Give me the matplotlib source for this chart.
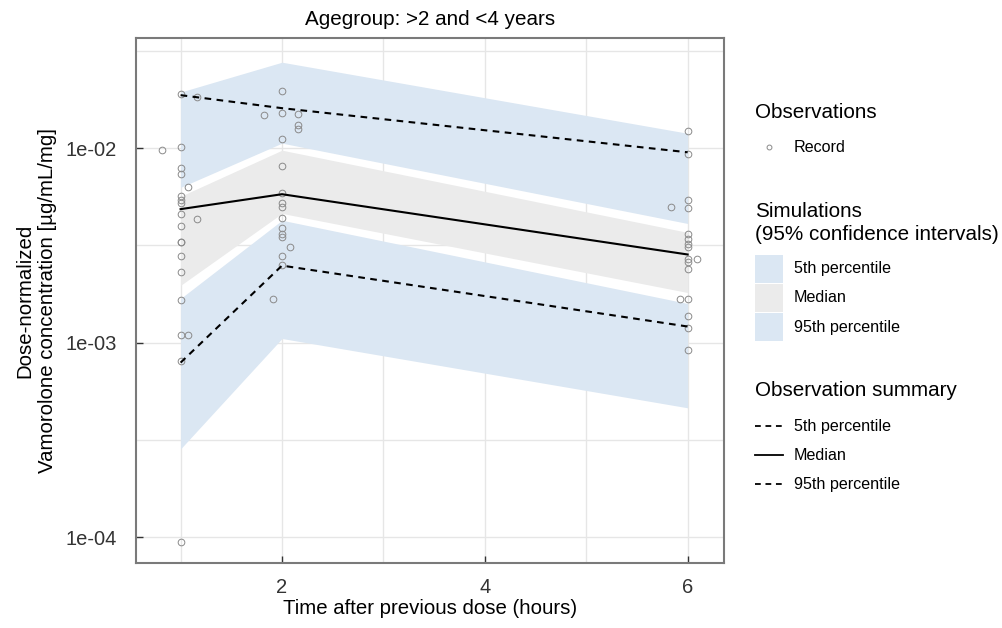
import numpy as np
import matplotlib
matplotlib.use("Agg")
import matplotlib.pyplot as plt
from matplotlib.lines import Line2D
from matplotlib.patches import Rectangle

plt.rcParams['font.family'] = ['Liberation Sans', 'DejaVu Sans']

# simulated confidence bands at the time points
t_sim = [1, 2, 6]
p95_lo = [0.00629, 0.01062, 0.0041]
p95_hi = [0.01945, 0.0277, 0.01194]
med_lo = [0.00197, 0.00462, 0.00181]
med_hi = [0.00566, 0.00977, 0.00369]
p05_lo = [0.000284, 0.00105, 0.000462]
p05_hi = [0.001687, 0.00426, 0.00159]

# observed summary lines
t_obs = [1, 2, 6]
obs_p95 = [0.01875, 0.01607, 0.00953]
obs_med = [0.00486, 0.00580, 0.00284]
obs_p05 = [0.000789, 0.00249, 0.00121]

# individual records
rec_t = [1, 1, 1, 1, 1, 1, 1, 1, 1, 1, 1, 1, 1, 1, 1, 1, 1,
         0.82, 1.07, 1.16, 1.16, 1.07,
         2, 2, 2, 2, 2, 2, 2, 2, 2, 2, 2, 2, 2,
         1.82, 2.16, 2.16, 2.16, 2.08, 1.91,
         6, 6, 6, 6, 6, 6, 6, 6, 6, 6, 6, 6, 6, 6, 6,
         5.84, 6.09, 5.92]
rec_c = [0.0191, 0.0102, 0.0079, 0.0074, 0.0057, 0.0054, 0.0052, 0.0046,
         0.0040, 0.0033, 0.0028, 0.0023, 0.00165, 0.00109, 0.000800, 0.0000945, 0.0033,
         0.0098, 0.0063, 0.0043, 0.0184, 0.00109,
         0.0197, 0.0152, 0.0112, 0.0081, 0.0059, 0.0052, 0.0050, 0.0044, 0.0039,
         0.0036, 0.0035, 0.0028, 0.0025,
         0.0148, 0.0150, 0.0132, 0.0125, 0.0031, 0.00168,
         0.0122, 0.0093, 0.0054, 0.0049, 0.0036, 0.0034, 0.0032, 0.0031, 0.0027,
         0.0026, 0.0024, 0.00168, 0.00137, 0.00119, 0.00092,
         0.0050, 0.0027, 0.00168]

blue = '#dbe7f3'
grey = '#ebebeb'

fig = plt.figure(figsize=(10.02, 6.28), dpi=100)
ax = fig.add_axes([0.1357, 0.1035, 0.587, 0.836])

ax.fill_between(t_sim, p95_lo, p95_hi, color=blue, lw=0, zorder=2)
ax.fill_between(t_sim, med_lo, med_hi, color=grey, lw=0, zorder=2)
ax.fill_between(t_sim, p05_lo, p05_hi, color=blue, lw=0, zorder=2)

dash = (0, (3.2, 2.6))
ax.plot(t_obs, obs_p95, color='black', lw=1.5, linestyle=dash, zorder=4)
ax.plot(t_obs, obs_med, color='black', lw=1.5, zorder=4)
ax.plot(t_obs, obs_p05, color='black', lw=1.5, linestyle=dash, zorder=4)

ax.plot(rec_t, rec_c, linestyle='none', marker='o', ms=4.8, mfc='none',
        mec='#8a8a8a', mew=0.7, zorder=3)

ax.set_yscale('log')
ax.set_xlim(0.56, 6.36)
ax.set_ylim(7.35e-5, 0.0369)

ax.set_xticks([2, 4, 6])
ax.set_xticks([1, 3, 5], minor=True)
ax.set_yticks([1e-4, 1e-3, 1e-2])
ax.set_yticklabels(['1e-04', '1e-03', '1e-02'])
ax.set_yticks([10**-3.5, 10**-2.5, 10**-1.5], minor=True)
ax.yaxis.set_minor_formatter(plt.NullFormatter())
ax.tick_params(which='major', direction='in', length=5, width=1, color='#333333',
               labelsize=14.5, labelcolor='#333333')
ax.tick_params(axis='x', which='major', pad=11)
ax.tick_params(axis='y', which='major', pad=14)
ax.tick_params(which='minor', length=0)
ax.grid(True, which='both', color='#e6e6e6', lw=1, zorder=0)
ax.set_axisbelow(True)
for s in ax.spines.values():
    s.set_color('#7a7a7a')
    s.set_linewidth(1.5)

ax.set_xlabel('Time after previous dose (hours)', fontsize=14.7, labelpad=1)
ax.set_ylabel('Dose-normalized\nVamorolone concentration [µg/mL/mg]', fontsize=14.7,
              labelpad=6, linespacing=1.2)
ax.set_title('Agegroup: >2 and <4 years', fontsize=14.9, pad=9)

# legend drawn in figure pixel coordinates
W, H = 1002, 628


def fx(px):
    return px / W


def fy(py):
    return 1 - py / H


tx = 794
fs_title = 14.9
fs_lab = 11.6
fig.text(fx(755), fy(112), 'Observations', fontsize=fs_title, va='center')
fig.add_artist(Line2D([fx(769)], [fy(147)], marker='o', ms=3.5, mfc='none',
                      mec='#8a8a8a', mew=0.7, linestyle='none'))
fig.text(fx(tx), fy(147), 'Record', fontsize=fs_lab, va='center')

fig.text(fx(755), fy(212), 'Simulations', fontsize=fs_title, va='center')
fig.text(fx(755), fy(234), '(95% confidence intervals)', fontsize=fs_title, va='center')
sim_labels = ['5th percentile', 'Median', '95th percentile']
sim_cols = [blue, grey, blue]
for i, (lab, col) in enumerate(zip(sim_labels, sim_cols)):
    yc = 269 + i * 29
    fig.add_artist(Rectangle((fx(755), fy(yc + 14)), 28 / W, 28 / H,
                             facecolor=col, edgecolor='none'))
    fig.text(fx(tx), fy(yc), lab, fontsize=fs_lab, va='center')

fig.text(fx(755), fy(391), 'Observation summary', fontsize=fs_title, va='center')
obs_labels = ['5th percentile', 'Median', '95th percentile']
obs_styles = [dash, '-', dash]
for i, (lab, ls) in enumerate(zip(obs_labels, obs_styles)):
    yc = 426 + i * 29
    fig.add_artist(Line2D([fx(755), fx(783)], [fy(yc), fy(yc)], color='black',
                          lw=1.3, linestyle=ls))
    fig.text(fx(tx), fy(yc), lab, fontsize=fs_lab, va='center')

fig.savefig('out.png', dpi=100)
